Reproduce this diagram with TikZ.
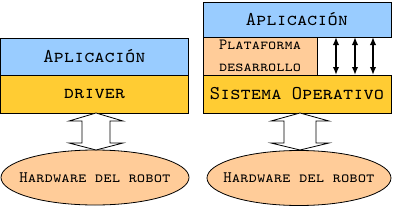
\documentclass[tikz,border=0pt]{standalone}
\usetikzlibrary{arrows.meta,shapes.geometric}
\definecolor{appblue}{RGB}{153,204,255}
\definecolor{drvyel}{RGB}{255,204,51}
\definecolor{peach}{RGB}{255,204,153}
\begin{document}
\begin{tikzpicture}[x=1pt,y=-1pt,
  layer/.style={draw=black, line width=0.8pt, inner sep=0pt, outer sep=0pt,
    font=\fontsize{19.5}{20}\selectfont\ttfamily\scshape},
  hwshape/.style={draw=black, fill=peach, line width=0.8pt},
  hw/.style={inner sep=0pt, font=\fontsize{16}{18}\selectfont\ttfamily\scshape},
  hollow/.style={draw=black, fill=white, line width=0.8pt, line join=miter},
  sync/.style={{Latex[length=8pt,width=6.5pt]}-{Latex[length=8pt,width=6.5pt]}, line width=2.4pt}]
\useasboundingbox (0,0) rectangle (394,207);
% left stack
\node[layer, fill=appblue, minimum width=188pt, minimum height=37pt] (lapp) at (94.5,56.5) {Aplicación};
\node[layer, fill=drvyel, minimum width=188pt, minimum height=38pt] (ldrv) at (94.5,94) {driver};
\draw[hwshape] (95,177.5) ellipse [x radius=94, y radius=27.5];
\node[hw] (lhw) at (95,177.5) {Hardware del robot};
\draw[hollow] (96,113) -- (123,121) -- (110,121) -- (110,143) -- (123,143) -- (96,150)
  -- (69,143) -- (82,143) -- (82,121) -- (69,121) -- cycle;
% right stack
\node[layer, fill=appblue, minimum width=188pt, minimum height=35pt] (rapp) at (297,19.5) {Aplicación};
\node[layer, fill=peach, minimum width=114pt, minimum height=38pt, align=center,
  font=\fontsize{15.6}{22}\selectfont\ttfamily\scshape] (rplat) at (260,56) {Plataforma\\desarrollo};
\node[layer, fill=drvyel, minimum width=188pt, minimum height=38pt] (rso) at (297,94) {Sistema Operativo};
\draw[hwshape] (299,178) ellipse [x radius=92, y radius=27.5];
\node[hw] (rhw) at (299,178) {Hardware del robot};
\draw[hollow] (300,113) -- (329,121) -- (316,121) -- (316,143) -- (329,143) -- (300,150)
  -- (271,143) -- (284,143) -- (284,121) -- (271,121) -- cycle;
\coordinate (c1) at (336,0);
\coordinate (c2) at (355,0);
\coordinate (c3) at (373,0);
\foreach \c in {c1,c2,c3}
  \draw[sync] (rapp.south -| \c) -- (rso.north -| \c);
\end{tikzpicture}
\end{document}
